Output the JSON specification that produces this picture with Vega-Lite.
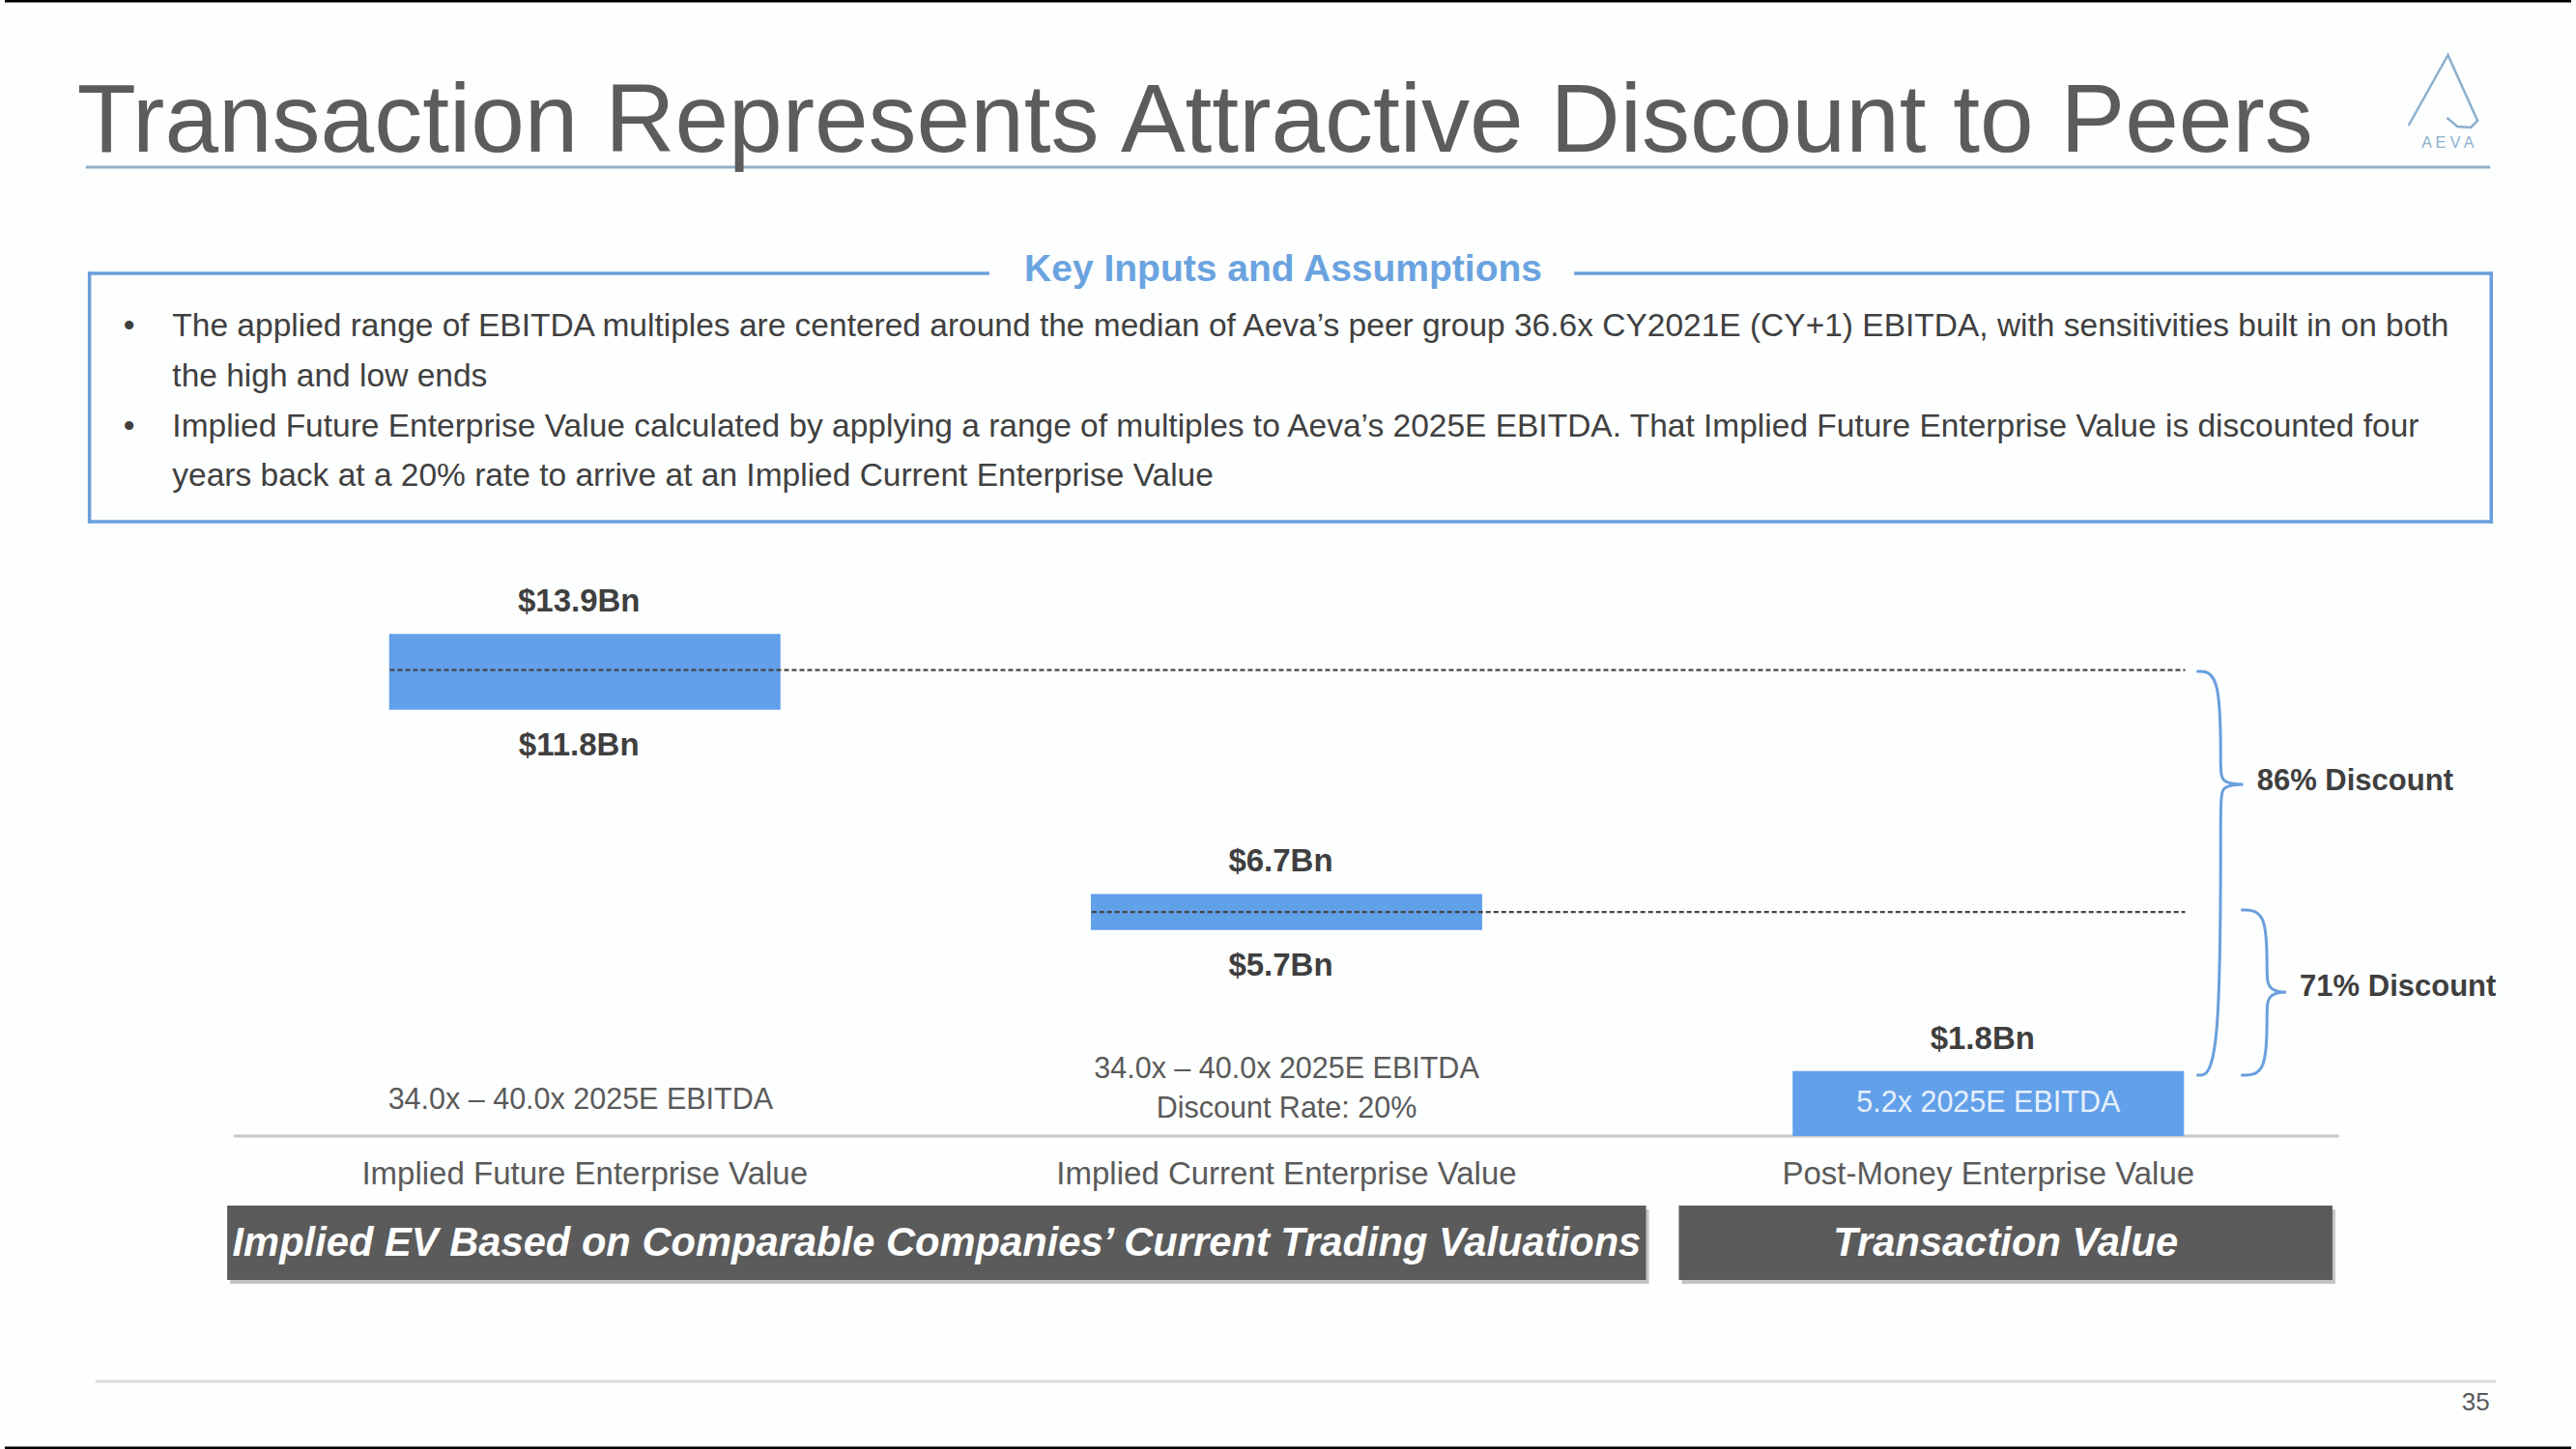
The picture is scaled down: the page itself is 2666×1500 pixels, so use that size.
{
  "$schema": "https://vega.github.io/schema/vega-lite/v6.json",
  "width": 2666,
  "height": 1500,
  "padding": 0,
  "autosize": {"type": "none"},
  "background": "#fdfefe",
  "config": {"view": {"stroke": null}, "font": "Liberation Sans", "text": {"font": "Liberation Sans"}},
  "datasets": {
    "bars": [
      {"metric": "Implied Future Enterprise Value", "slot": 0, "low": 11.8, "high": 13.9},
      {"metric": "Implied Current Enterprise Value", "slot": 1, "low": 5.7, "high": 6.7},
      {"metric": "Post-Money Enterprise Value", "slot": 2, "low": 0, "high": 1.8}
    ],
    "valueLabels": [
      {"slot": 0, "value": 13.9, "text": "$13.9Bn", "pos": "above"},
      {"slot": 0, "value": 11.8, "text": "$11.8Bn", "pos": "below"},
      {"slot": 1, "value": 6.7, "text": "$6.7Bn", "pos": "above"},
      {"slot": 1, "value": 5.7, "text": "$5.7Bn", "pos": "below"},
      {"slot": 2, "value": 1.8, "text": "$1.8Bn", "pos": "above"}
    ],
    "levels": [
      {"from": -0.2778, "to": 2.2805, "level": 12.9},
      {"from": 0.7222, "to": 2.2805, "level": 6.2}
    ],
    "notes": [
      {"slot": -0.006, "y": 0.989, "text": "34.0x – 40.0x 2025E EBITDA"},
      {"slot": 1, "y": 1.845, "text": "34.0x – 40.0x 2025E EBITDA"},
      {"slot": 1, "y": 0.749, "text": "Discount Rate: 20%"}
    ],
    "categories": [
      {"slot": 0, "text": "Implied Future Enterprise Value"},
      {"slot": 1, "text": "Implied Current Enterprise Value"},
      {"slot": 2, "text": "Post-Money Enterprise Value"}
    ],
    "braces": [
      {"brace": "86", "i": 0, "x": 2.2968, "y": 12.861},
      {"brace": "86", "i": 1, "x": 2.3311, "y": 12.861},
      {"brace": "86", "i": 2, "x": 2.3311, "y": 10.187},
      {"brace": "86", "i": 3, "x": 2.3311, "y": 9.733},
      {"brace": "86", "i": 4, "x": 2.3791, "y": 9.733},
      {"brace": "86", "i": 5, "x": 2.3311, "y": 9.733},
      {"brace": "86", "i": 6, "x": 2.3311, "y": 9.278},
      {"brace": "86", "i": 7, "x": 2.3311, "y": 1.684},
      {"brace": "86", "i": 8, "x": 2.2968, "y": 1.684},
      {"brace": "71", "i": 0, "x": 2.3601, "y": 6.257},
      {"brace": "71", "i": 1, "x": 2.3971, "y": 6.257},
      {"brace": "71", "i": 2, "x": 2.3971, "y": 4.572},
      {"brace": "71", "i": 3, "x": 2.3971, "y": 3.984},
      {"brace": "71", "i": 4, "x": 2.4383, "y": 3.984},
      {"brace": "71", "i": 5, "x": 2.3971, "y": 3.984},
      {"brace": "71", "i": 6, "x": 2.3971, "y": 3.396},
      {"brace": "71", "i": 7, "x": 2.3971, "y": 1.684},
      {"brace": "71", "i": 8, "x": 2.3601, "y": 1.684}
    ],
    "discounts": [
      {"x": 2.3827, "y": 9.813, "text": "86% Discount"},
      {"x": 2.4438, "y": 4.118, "text": "71% Discount"}
    ],
    "lines": [
      {"part": "frame", "x": -0.8265, "x2": 2.8306, "y": 31.417, "y2": 31.417},
      {"part": "frame", "x": -0.8265, "x2": 2.8306, "y": -8.636, "y2": -8.636},
      {"part": "underline", "x": -0.7112, "x2": 2.7153, "y": 26.818, "y2": 26.818},
      {"part": "box", "x": -0.7058, "x2": -0.7058, "y": 23.877, "y2": 17.005},
      {"part": "box", "x": 2.7167, "x2": 2.7167, "y": 23.877, "y2": 17.005},
      {"part": "box", "x": -0.7058, "x2": 2.7167, "y": 17.005, "y2": 17.005},
      {"part": "box", "x": -0.7058, "x2": 0.5741, "y": 23.877, "y2": 23.877},
      {"part": "box", "x": 1.4122, "x2": 2.7167, "y": 23.877, "y2": 23.877},
      {"part": "baseline", "x": -0.5, "x2": 2.5, "y": 0, "y2": 0},
      {"part": "footer", "x": -0.6975, "x2": 2.7236, "y": -6.791, "y2": -6.791}
    ],
    "bullets": [
      {"line": 1, "y": 22.139, "bullet": true, "text": "The applied range of EBITDA multiples are centered around the median of Aeva’s peer group 36.6x CY2021E (CY+1) EBITDA, with sensitivities built in on both"},
      {"line": 2, "y": 20.749, "bullet": false, "text": "the high and low ends"},
      {"line": 3, "y": 19.358, "bullet": true, "text": "Implied Future Enterprise Value calculated by applying a range of multiples to Aeva’s 2025E EBITDA. That Implied Future Enterprise Value is discounted four"},
      {"line": 4, "y": 17.995, "bullet": false, "text": "years back at a 20% rate to arrive at an Implied Current Enterprise Value"}
    ],
    "logo": [
      {"i": 0, "x": 2.5988, "y": 27.968},
      {"i": 1, "x": 2.655, "y": 29.92},
      {"i": 2, "x": 2.6972, "y": 28.102},
      {"i": 3, "x": 2.6876, "y": 27.915},
      {"i": 4, "x": 2.6684, "y": 27.942},
      {"i": 5, "x": 2.6536, "y": 28.182}
    ],
    "groups": [
      {"label": "Implied EV Based on Comparable Companies’ Current Trading Valuations", "x": -0.5096, "x2": 1.5123, "mid": 0.5014},
      {"label": "Transaction Value", "x": 1.559, "x2": 2.4904, "mid": 2.0247}
    ]
  },
  "layer": [
    {
      "data": {"name": "lines"},
      "transform": [{"filter": "datum.part === 'frame'"}],
      "mark": {"type": "rule", "color": "#000000", "strokeWidth": 3},
      "encoding": {
        "x": {"field": "x", "type": "quantitative", "scale": {"domain": [-0.82647, 2.83059], "nice": false, "zero": false}, "axis": null},
        "x2": {"field": "x2"},
        "y": {"field": "y", "type": "quantitative", "scale": {"domain": [-8.6631, 31.4439], "nice": false, "zero": false}, "axis": null},
        "y2": {"field": "y2"}
      }
    },
    {
      "data": {"name": "lines"},
      "transform": [{"filter": "datum.part === 'underline'"}],
      "mark": {"type": "rule", "color": "#8fb0c6", "strokeWidth": 3},
      "encoding": {
        "x": {"field": "x", "type": "quantitative", "scale": {"domain": [-0.82647, 2.83059], "nice": false, "zero": false}, "axis": null},
        "x2": {"field": "x2"},
        "y": {"field": "y", "type": "quantitative", "scale": {"domain": [-8.6631, 31.4439], "nice": false, "zero": false}, "axis": null},
        "y2": {"field": "y2"}
      }
    },
    {
      "data": {"name": "lines"},
      "transform": [{"filter": "datum.part === 'box'"}],
      "mark": {"type": "rule", "color": "#6a9fdc", "strokeWidth": 3.5, "strokeCap": "square"},
      "encoding": {
        "x": {"field": "x", "type": "quantitative", "scale": {"domain": [-0.82647, 2.83059], "nice": false, "zero": false}, "axis": null},
        "x2": {"field": "x2"},
        "y": {"field": "y", "type": "quantitative", "scale": {"domain": [-8.6631, 31.4439], "nice": false, "zero": false}, "axis": null},
        "y2": {"field": "y2"}
      }
    },
    {
      "data": {"values": [{"text": "Transaction Represents Attractive Discount to Peers"}]},
      "mark": {"type": "text", "align": "left", "baseline": "alphabetic", "fontSize": 100, "color": "#5c5c5c"},
      "encoding": {
        "x": {"datum": -0.7236, "type": "quantitative", "scale": {"domain": [-0.82647, 2.83059], "nice": false, "zero": false}, "axis": null},
        "y": {"datum": 27.246, "type": "quantitative", "scale": {"domain": [-8.6631, 31.4439], "nice": false, "zero": false}, "axis": null},
        "text": {"field": "text"}
      }
    },
    {
      "data": {"name": "logo"},
      "mark": {"type": "line", "color": "#8cb0cc", "strokeWidth": 2.5, "interpolate": "linear"},
      "encoding": {
        "x": {"field": "x", "type": "quantitative", "scale": {"domain": [-0.82647, 2.83059], "nice": false, "zero": false}, "axis": null},
        "y": {"field": "y", "type": "quantitative", "scale": {"domain": [-8.6631, 31.4439], "nice": false, "zero": false}, "axis": null},
        "order": {"field": "i"}
      }
    },
    {
      "data": {"values": [{"text": "A E V A"}]},
      "mark": {"type": "text", "align": "center", "baseline": "middle", "fontSize": 16, "color": "#8cb0cc"},
      "encoding": {
        "x": {"datum": 2.6549, "type": "quantitative", "scale": {"domain": [-0.82647, 2.83059], "nice": false, "zero": false}, "axis": null},
        "y": {"datum": 27.487, "type": "quantitative", "scale": {"domain": [-8.6631, 31.4439], "nice": false, "zero": false}, "axis": null},
        "text": {"field": "text"}
      }
    },
    {
      "data": {"values": [{"text": "Key Inputs and Assumptions"}]},
      "mark": {"type": "text", "align": "center", "baseline": "alphabetic", "fontSize": 39, "fontWeight": "bold", "color": "#6aa3e0"},
      "encoding": {
        "x": {"datum": 0.9952, "type": "quantitative", "scale": {"domain": [-0.82647, 2.83059], "nice": false, "zero": false}, "axis": null},
        "y": {"datum": 23.663, "type": "quantitative", "scale": {"domain": [-8.6631, 31.4439], "nice": false, "zero": false}, "axis": null},
        "text": {"field": "text"}
      }
    },
    {
      "data": {"name": "bullets"},
      "transform": [{"filter": "datum.bullet"}],
      "mark": {"type": "text", "align": "center", "baseline": "alphabetic", "fontSize": 33.5, "color": "#404040"},
      "encoding": {
        "x": {"datum": -0.6495, "type": "quantitative", "scale": {"domain": [-0.82647, 2.83059], "nice": false, "zero": false}, "axis": null},
        "y": {"field": "y", "type": "quantitative", "scale": {"domain": [-8.6631, 31.4439], "nice": false, "zero": false}, "axis": null},
        "text": {"value": "•"}
      }
    },
    {
      "data": {"name": "bullets"},
      "mark": {"type": "text", "align": "left", "baseline": "alphabetic", "fontSize": 33.5, "color": "#404040"},
      "encoding": {
        "x": {"datum": -0.5878, "type": "quantitative", "scale": {"domain": [-0.82647, 2.83059], "nice": false, "zero": false}, "axis": null},
        "y": {"field": "y", "type": "quantitative", "scale": {"domain": [-8.6631, 31.4439], "nice": false, "zero": false}, "axis": null},
        "text": {"field": "text"}
      }
    },
    {
      "data": {"name": "lines"},
      "transform": [{"filter": "datum.part === 'baseline'"}],
      "mark": {"type": "rule", "color": "#c8c8c8", "strokeWidth": 3},
      "encoding": {
        "x": {"field": "x", "type": "quantitative", "scale": {"domain": [-0.82647, 2.83059], "nice": false, "zero": false}, "axis": null},
        "x2": {"field": "x2"},
        "y": {"field": "y", "type": "quantitative", "scale": {"domain": [-8.6631, 31.4439], "nice": false, "zero": false}, "axis": null},
        "y2": {"field": "y2"}
      }
    },
    {
      "data": {"name": "bars"},
      "mark": {"type": "bar", "width": 405, "color": "#62a0ea"},
      "encoding": {
        "x": {"field": "slot", "type": "quantitative", "scale": {"domain": [-0.82647, 2.83059], "nice": false, "zero": false}, "axis": null},
        "y": {"field": "low", "type": "quantitative", "scale": {"domain": [-8.6631, 31.4439], "nice": false, "zero": false}, "axis": null},
        "y2": {"field": "high"}
      }
    },
    {
      "data": {"name": "levels"},
      "mark": {"type": "rule", "color": "#454545", "strokeWidth": 2.2, "strokeDash": [5, 3]},
      "encoding": {
        "x": {"field": "from", "type": "quantitative", "scale": {"domain": [-0.82647, 2.83059], "nice": false, "zero": false}, "axis": null},
        "x2": {"field": "to"},
        "y": {"field": "level", "type": "quantitative", "scale": {"domain": [-8.6631, 31.4439], "nice": false, "zero": false}, "axis": null}
      }
    },
    {
      "data": {"name": "valueLabels"},
      "transform": [{"filter": "datum.pos === 'above'"}],
      "mark": {"type": "text", "align": "center", "baseline": "middle", "fontSize": 33, "fontWeight": "bold", "color": "#3f3f3f", "dy": -33, "dx": -6},
      "encoding": {
        "x": {"field": "slot", "type": "quantitative", "scale": {"domain": [-0.82647, 2.83059], "nice": false, "zero": false}, "axis": null},
        "y": {"field": "value", "type": "quantitative", "scale": {"domain": [-8.6631, 31.4439], "nice": false, "zero": false}, "axis": null},
        "text": {"field": "text"}
      }
    },
    {
      "data": {"name": "valueLabels"},
      "transform": [{"filter": "datum.pos === 'below'"}],
      "mark": {"type": "text", "align": "center", "baseline": "middle", "fontSize": 33, "fontWeight": "bold", "color": "#3f3f3f", "dy": 37, "dx": -6},
      "encoding": {
        "x": {"field": "slot", "type": "quantitative", "scale": {"domain": [-0.82647, 2.83059], "nice": false, "zero": false}, "axis": null},
        "y": {"field": "value", "type": "quantitative", "scale": {"domain": [-8.6631, 31.4439], "nice": false, "zero": false}, "axis": null},
        "text": {"field": "text"}
      }
    },
    {
      "data": {"values": [{"slot": 2, "y": 0.9, "text": "5.2x 2025E EBITDA"}]},
      "mark": {"type": "text", "align": "center", "baseline": "middle", "fontSize": 30.5, "color": "#e6f0fc"},
      "encoding": {
        "x": {"field": "slot", "type": "quantitative", "scale": {"domain": [-0.82647, 2.83059], "nice": false, "zero": false}, "axis": null},
        "y": {"field": "y", "type": "quantitative", "scale": {"domain": [-8.6631, 31.4439], "nice": false, "zero": false}, "axis": null},
        "text": {"field": "text"}
      }
    },
    {
      "data": {"name": "notes"},
      "mark": {"type": "text", "align": "center", "baseline": "middle", "fontSize": 30.5, "color": "#5a5a5a"},
      "encoding": {
        "x": {"field": "slot", "type": "quantitative", "scale": {"domain": [-0.82647, 2.83059], "nice": false, "zero": false}, "axis": null},
        "y": {"field": "y", "type": "quantitative", "scale": {"domain": [-8.6631, 31.4439], "nice": false, "zero": false}, "axis": null},
        "text": {"field": "text"}
      }
    },
    {
      "data": {"name": "categories"},
      "mark": {"type": "text", "align": "center", "baseline": "middle", "fontSize": 33, "color": "#5a5a5a"},
      "encoding": {
        "x": {"field": "slot", "type": "quantitative", "scale": {"domain": [-0.82647, 2.83059], "nice": false, "zero": false}, "axis": null},
        "y": {"datum": -1.07, "type": "quantitative", "scale": {"domain": [-8.6631, 31.4439], "nice": false, "zero": false}, "axis": null},
        "text": {"field": "text"}
      }
    },
    {
      "data": {"name": "braces"},
      "mark": {"type": "line", "color": "#6a9fdc", "strokeWidth": 3, "interpolate": "basis"},
      "encoding": {
        "x": {"field": "x", "type": "quantitative", "scale": {"domain": [-0.82647, 2.83059], "nice": false, "zero": false}, "axis": null},
        "y": {"field": "y", "type": "quantitative", "scale": {"domain": [-8.6631, 31.4439], "nice": false, "zero": false}, "axis": null},
        "detail": {"field": "brace"},
        "order": {"field": "i"}
      }
    },
    {
      "data": {"name": "discounts"},
      "mark": {"type": "text", "align": "left", "baseline": "middle", "fontSize": 31, "fontWeight": "bold", "color": "#3f3f3f"},
      "encoding": {
        "x": {"field": "x", "type": "quantitative", "scale": {"domain": [-0.82647, 2.83059], "nice": false, "zero": false}, "axis": null},
        "y": {"field": "y", "type": "quantitative", "scale": {"domain": [-8.6631, 31.4439], "nice": false, "zero": false}, "axis": null},
        "text": {"field": "text"}
      }
    },
    {
      "data": {"name": "groups"},
      "mark": {"type": "rect", "color": "#c4c4c4", "xOffset": 3, "x2Offset": 3, "yOffset": 4, "y2Offset": 4},
      "encoding": {
        "x": {"field": "x", "type": "quantitative", "scale": {"domain": [-0.82647, 2.83059], "nice": false, "zero": false}, "axis": null},
        "x2": {"field": "x2"},
        "y": {"datum": -1.925, "type": "quantitative", "scale": {"domain": [-8.6631, 31.4439], "nice": false, "zero": false}, "axis": null},
        "y2": {"datum": -3.984}
      }
    },
    {
      "data": {"name": "groups"},
      "mark": {"type": "rect", "color": "#5b5b5b"},
      "encoding": {
        "x": {"field": "x", "type": "quantitative", "scale": {"domain": [-0.82647, 2.83059], "nice": false, "zero": false}, "axis": null},
        "x2": {"field": "x2"},
        "y": {"datum": -1.925, "type": "quantitative", "scale": {"domain": [-8.6631, 31.4439], "nice": false, "zero": false}, "axis": null},
        "y2": {"datum": -3.984}
      }
    },
    {
      "data": {"name": "groups"},
      "mark": {"type": "text", "align": "center", "baseline": "middle", "fontSize": 41.7, "fontWeight": "bold", "fontStyle": "italic", "color": "#ffffff"},
      "encoding": {
        "x": {"field": "mid", "type": "quantitative", "scale": {"domain": [-0.82647, 2.83059], "nice": false, "zero": false}, "axis": null},
        "y": {"datum": -2.968, "type": "quantitative", "scale": {"domain": [-8.6631, 31.4439], "nice": false, "zero": false}, "axis": null},
        "text": {"field": "label"}
      }
    },
    {
      "data": {"name": "lines"},
      "transform": [{"filter": "datum.part === 'footer'"}],
      "mark": {"type": "rule", "color": "#d9d9d9", "strokeWidth": 3},
      "encoding": {
        "x": {"field": "x", "type": "quantitative", "scale": {"domain": [-0.82647, 2.83059], "nice": false, "zero": false}, "axis": null},
        "x2": {"field": "x2"},
        "y": {"field": "y", "type": "quantitative", "scale": {"domain": [-8.6631, 31.4439], "nice": false, "zero": false}, "axis": null},
        "y2": {"field": "y2"}
      }
    },
    {
      "data": {"values": [{"text": "35"}]},
      "mark": {"type": "text", "align": "center", "baseline": "middle", "fontSize": 26, "color": "#5a5a5a"},
      "encoding": {
        "x": {"datum": 2.6947, "type": "quantitative", "scale": {"domain": [-0.82647, 2.83059], "nice": false, "zero": false}, "axis": null},
        "y": {"datum": -7.38, "type": "quantitative", "scale": {"domain": [-8.6631, 31.4439], "nice": false, "zero": false}, "axis": null},
        "text": {"field": "text"}
      }
    }
  ]
}
